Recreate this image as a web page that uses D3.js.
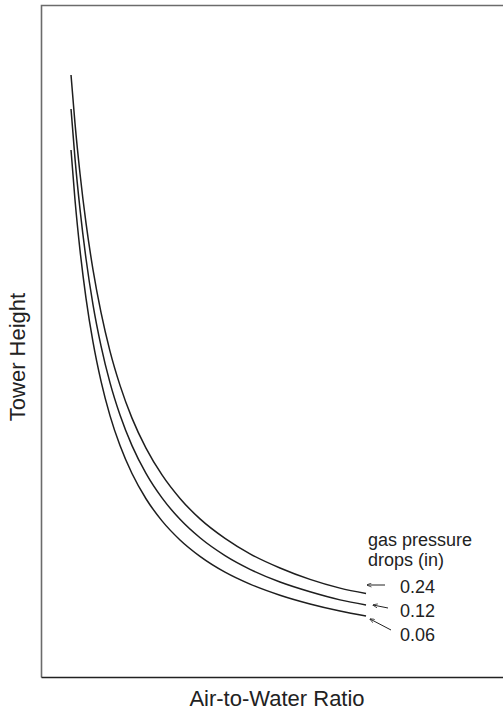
<!DOCTYPE html>
<html>
<head>
<meta charset="utf-8">
<script src="https://cdn.jsdelivr.net/npm/d3@7"></script>
<style>
  body { margin: 0; background: #fff; }
  text { font-family: "Liberation Sans", Arial, sans-serif; fill: #222; }
</style>
</head>
<body>
<div class="container"></div>
<script>
// data (arbitrary units 0-100)
const ratio = [6.41, 7.27, 8.36, 9.66, 11.18, 12.92, 14.87, 17.05, 19.65, 22.69, 26.17, 30.08, 34.42, 39.85, 45.28, 51.79, 58.31, 64.82, 70.47];
const drop024 = [89.66, 82.5, 75.0, 67.65, 60.7, 54.32, 48.57, 43.47, 38.6, 34.14, 30.15, 26.65, 23.6, 20.7, 18.4, 16.3, 14.6, 13.3, 12.5];
const drop012 = [84.6, 77.25, 69.7, 62.35, 55.5, 49.36, 43.88, 39.06, 34.51, 30.38, 26.73, 23.54, 20.79, 18.14, 16.1, 14.2, 12.75, 11.55, 10.8];
const drop006 = [78.5, 71.1, 63.6, 56.47, 49.93, 44.1, 38.97, 34.51, 30.35, 26.6, 23.31, 20.47, 18.03, 15.68, 13.9, 12.25, 10.95, 9.9, 9.15];
const seriesNames = ['0.24', '0.12', '0.06'];
const seriesValues = [drop024, drop012, drop006];

// initial setup
const w = 503;
const h = 710;
const [margin_top, margin_left, margin_bottom, margin_right] = [5.5, 41.5, 32.5, 1];
const plotWidth = w - margin_left - margin_right;
const plotHeight = h - margin_top - margin_bottom;

const svg = d3.select('.container')
              .append('svg')
              .attr('width', w)
              .attr('height', h);
const plot = svg.append('g')
                .attr('transform', `translate(${margin_left}, ${margin_top})`);

const x = d3.scaleLinear().domain([0, 100]).range([0, plotWidth]);
const y = d3.scaleLinear().domain([0, 100]).range([plotHeight, 0]);

// frame (left, top, bottom)
plot.append('path')
    .attr('d', `M${plotWidth + 2},0H0V${plotHeight}`)
    .attr('fill', 'none')
    .attr('stroke', '#6b6b6b')
    .attr('stroke-width', 1.6);
plot.append('line')
    .attr('x1', 0).attr('x2', plotWidth + 2)
    .attr('y1', plotHeight).attr('y2', plotHeight)
    .attr('stroke', '#222')
    .attr('stroke-width', 1.6);

// curves
const line = d3.line()
               .x((d, i) => x(ratio[i]))
               .y(d => y(d))
               .curve(d3.curveMonotoneX);

plot.selectAll('path.curve')
    .data(seriesValues)
    .enter()
    .append('path')
    .attr('class', 'curve')
    .attr('d', line)
    .attr('fill', 'none')
    .attr('stroke', '#1e1e1e')
    .attr('stroke-width', 1.5);

// legend
svg.append('defs').append('marker')
   .attr('id', 'head')
   .attr('viewBox', '0 0 10 10')
   .attr('refX', 9).attr('refY', 5)
   .attr('markerWidth', 5).attr('markerHeight', 5)
   .attr('orient', 'auto')
   .append('path')
   .attr('d', 'M0,1L10,5L0,9')
   .attr('fill', 'none')
   .attr('stroke', '#222')
   .attr('stroke-width', 1.5);

svg.append('text').attr('x', 368).attr('y', 546).attr('font-size', 18).text('gas pressure');
svg.append('text').attr('x', 368).attr('y', 566).attr('font-size', 18).text('drops (in)');

const labelY = [593, 617, 641];
const arrows = [[385, 585, 367, 585], [388, 608, 373, 605], [391, 630, 370, 619]];

seriesNames.forEach((name, i) => {
    svg.append('text')
       .attr('x', 400)
       .attr('y', labelY[i])
       .attr('font-size', 18)
       .text(name);
    const [x1, y1, x2, y2] = arrows[i];
    svg.append('line')
       .attr('x1', x1).attr('y1', y1)
       .attr('x2', x2).attr('y2', y2)
       .attr('stroke', '#222')
       .attr('stroke-width', 1)
       .attr('marker-end', 'url(#head)');
});

// axis titles
svg.append('text')
   .attr('x', 277).attr('y', 706)
   .attr('text-anchor', 'middle')
   .attr('font-size', 22)
   .text('Air-to-Water Ratio');
svg.append('text')
   .attr('transform', 'translate(25, 357) rotate(-90)')
   .attr('text-anchor', 'middle')
   .attr('font-size', 22)
   .text('Tower Height');
</script>
</body>
</html>
